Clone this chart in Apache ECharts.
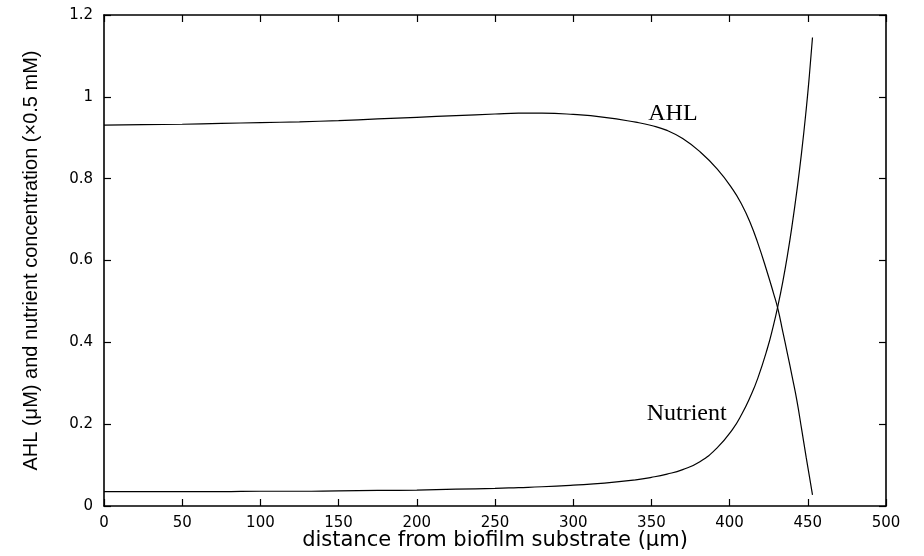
<!DOCTYPE html>
<html>
<head>
<meta charset="utf-8">
<script src="https://cdn.jsdelivr.net/npm/echarts@6/dist/echarts.min.js"></script>
<style>
  html, body { margin: 0; padding: 0; background: #fff; }
  #chart { width: 924px; height: 556px; }
</style>
</head>
<body>
<div id="chart"></div>
<script>
// Distance from the biofilm substrate (μm)
const distance = [0, 25, 50, 75, 100, 125, 150, 175, 200, 225, 250, 265, 280, 300, 320, 340, 350, 360, 370, 381, 392, 402, 408, 413, 418, 424, 428, 431, 434, 437, 440, 443, 446, 449, 451, 453];

// AHL concentration (μM)
const ahl = [0.931, 0.932, 0.933, 0.935, 0.937, 0.939, 0.942, 0.946, 0.950, 0.954, 0.958, 0.960, 0.960, 0.957, 0.950, 0.938, 0.930, 0.918, 0.898, 0.866, 0.824, 0.774, 0.735, 0.694, 0.643, 0.572, 0.521, 0.480, 0.426, 0.372, 0.316, 0.258, 0.189, 0.118, 0.073, 0.027];

// Nutrient concentration (×0.5 mM)
const nutrient = [0.035, 0.035, 0.035, 0.035, 0.036, 0.036, 0.037, 0.038, 0.039, 0.041, 0.043, 0.045, 0.047, 0.051, 0.056, 0.064, 0.070, 0.078, 0.089, 0.108, 0.142, 0.188, 0.226, 0.265, 0.312, 0.383, 0.441, 0.491, 0.548, 0.613, 0.687, 0.770, 0.863, 0.970, 1.052, 1.145];

const xTicks = { min: 0, max: 500, interval: 50 };
const yTicks = { min: 0, max: 1.2, interval: 0.2 };

const seriesNames = ['AHL', 'Nutrient'];

const pairs = (xs, ys) => xs.map((x, i) => [x, ys[i]]);

const chart = echarts.init(document.getElementById('chart'), null, { renderer: 'canvas' });

const frameLine = { show: true, onZero: false, lineStyle: { color: '#000', width: 1.6 } };
const innerTicks = { show: true, inside: true, length: 7, lineStyle: { color: '#000', width: 1.2 } };
const tickFont = { color: '#000', fontFamily: 'DejaVu Sans', fontSize: 15 };
const curveLabel = {
  show: true,
  position: [0, 0],
  align: 'left',
  verticalAlign: 'middle',
  color: '#000',
  fontFamily: 'Liberation Serif',
  fontSize: 24
};

chart.setOption({
  animation: false,
  backgroundColor: '#fff',
  grid: { left: 104, right: 38, top: 15, bottom: 50, containLabel: false, outerBoundsMode: 'none' },
  xAxis: [
    {
      type: 'value', position: 'bottom', ...xTicks,
      name: 'distance from biofilm substrate (μm)',
      nameLocation: 'middle', nameGap: 24, nameMoveOverlap: false,
      nameTextStyle: { color: '#000', fontFamily: 'DejaVu Sans', fontSize: 21 },
      axisLine: frameLine, axisTick: innerTicks,
      axisLabel: { ...tickFont, margin: 10 },
      splitLine: { show: false }
    },
    {
      type: 'value', position: 'top', ...xTicks,
      axisLine: frameLine, axisTick: innerTicks,
      axisLabel: { show: false }, splitLine: { show: false }
    }
  ],
  yAxis: [
    {
      type: 'value', position: 'left', ...yTicks,
      name: 'AHL (μM) and nutrient concentration (×0.5 mM)',
      nameLocation: 'middle', nameGap: 63, nameMoveOverlap: false,
      nameTextStyle: { color: '#000', fontFamily: 'Liberation Sans', fontSize: 20 },
      axisLine: frameLine, axisTick: innerTicks,
      axisLabel: { ...tickFont, margin: 11 },
      splitLine: { show: false }
    },
    {
      type: 'value', position: 'right', ...yTicks,
      axisLine: frameLine, axisTick: innerTicks,
      axisLabel: { show: false }, splitLine: { show: false }
    }
  ],
  series: [
    {
      name: seriesNames[0], type: 'line', smooth: 0.5, showSymbol: false,
      data: pairs(distance, ahl),
      lineStyle: { color: '#000', width: 1.2 },
      markPoint: {
        symbol: 'circle', symbolSize: 0, silent: true,
        label: { ...curveLabel, formatter: seriesNames[0] },
        data: [{ coord: [348, 0.959] }]
      }
    },
    {
      name: seriesNames[1], type: 'line', smooth: 0.5, showSymbol: false,
      data: pairs(distance, nutrient),
      lineStyle: { color: '#000', width: 1.2 },
      markPoint: {
        symbol: 'circle', symbolSize: 0, silent: true,
        label: { ...curveLabel, formatter: seriesNames[1] },
        data: [{ coord: [347, 0.225] }]
      }
    }
  ]
});
</script>
</body>
</html>
